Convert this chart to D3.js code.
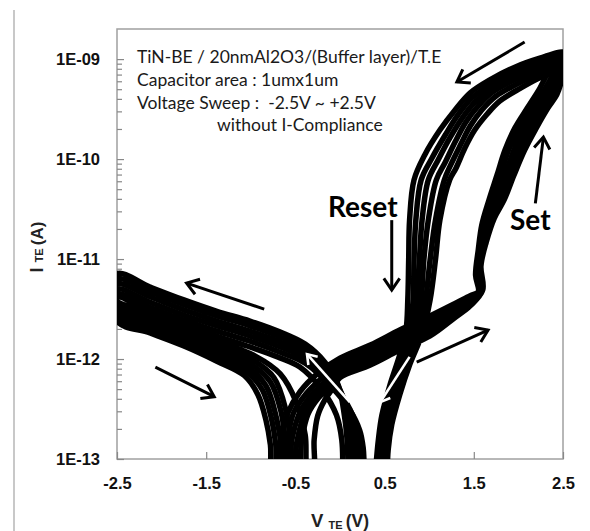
<!DOCTYPE html>
<html>
<head>
<meta charset="utf-8">
<script src="https://cdn.jsdelivr.net/npm/d3@7"></script>
<style>
  body { margin: 0; background: #fff; }
  svg { display: block; }
  .tick text { font-family: "Liberation Sans", Arial, sans-serif; font-weight: bold; font-size: 16.5px; fill: #111; }
</style>
</head>
<body>
<div id="chart"></div>
<script>
// I-V sweeps, [V_TE (V), I_TE (A)]
// each cycle: back to -2.5V, return, rise, set to +2.5V, return/reset
var cycle1 = [
  [0.09,7.8e-14],[0.08,1.55e-13],[0.04,3.1e-13],[-0.02,5.5e-13],[-0.17,9.3e-13],[-0.39,1.41e-12],[-0.67,1.86e-12],[-1.01,2.4e-12],[-1.38,3.0e-12],[-1.75,3.9e-12],[-2.13,5.25e-12],[-2.5,7.1e-12],
  [-2.5,2.4e-12],[-2.13,1.82e-12],[-1.75,1.35e-12],[-1.38,9.5e-13],[-1.07,6.8e-13],[-0.92,4.4e-13],[-0.83,2.45e-13],[-0.78,1.38e-13],[-0.76,7.8e-14],
  [-0.71,7.8e-14],[-0.66,1.55e-13],[-0.58,2.95e-13],[-0.45,4.7e-13],[-0.25,7.2e-13],[0.00,1.02e-12],[0.34,1.38e-12],[0.67,1.95e-12],[1.01,2.7e-12],[1.29,3.6e-12],[1.46,4.3e-12],[1.55,4.7e-12],
  [1.52,6.9e-12],[1.55,1.23e-11],[1.59,2.2e-11],[1.67,3.9e-11],[1.76,6.9e-11],[1.85,1.23e-10],[1.96,2.04e-10],[2.10,3.24e-10],[2.24,5.1e-10],[2.35,7.8e-10],[2.50,1.17e-9],
  [2.24,1.02e-9],[1.96,8.3e-10],[1.68,6.2e-10],[1.46,4.6e-10],[1.29,3.1e-10],[1.12,1.95e-10],[0.95,1.10e-10],[0.83,6.2e-11],[0.78,2.45e-11],[0.77,9.8e-12],[0.76,3.9e-12],[0.74,1.95e-12],[0.67,1.10e-12],[0.56,5.5e-13],[0.47,2.75e-13],[0.43,1.55e-13],[0.40,7.8e-14]
];
var cycle2 = [
  [0.13,7.8e-14],[0.12,1.48e-13],[0.09,2.75e-13],[0.01,4.7e-13],[-0.15,7.9e-13],[-0.39,1.26e-12],[-0.67,1.66e-12],[-1.01,2.15e-12],[-1.38,2.7e-12],[-1.75,3.5e-12],[-2.13,4.7e-12],[-2.5,6.3e-12],
  [-2.5,2.63e-12],[-2.13,2.0e-12],[-1.75,1.48e-12],[-1.38,1.05e-12],[-1.04,7.4e-13],[-0.87,4.9e-13],[-0.77,2.57e-13],[-0.72,1.38e-13],[-0.70,7.8e-14],
  [-0.64,7.8e-14],[-0.59,1.55e-13],[-0.52,2.9e-13],[-0.38,4.5e-13],[-0.20,6.5e-13],[0.00,9.3e-13],[0.34,1.26e-12],[0.67,1.78e-12],[1.01,2.45e-12],[1.29,3.4e-12],[1.46,4.1e-12],[1.56,4.7e-12],
  [1.54,7.1e-12],[1.57,1.23e-11],[1.63,2.2e-11],[1.70,3.9e-11],[1.80,6.9e-11],[1.89,1.23e-10],[2.01,2.04e-10],[2.14,3.24e-10],[2.29,4.9e-10],[2.39,7.1e-10],[2.50,1.07e-9],
  [2.24,9.3e-10],[1.96,7.4e-10],[1.68,5.5e-10],[1.48,4.1e-10],[1.32,2.75e-10],[1.18,1.74e-10],[1.03,1.02e-10],[0.91,6.2e-11],[0.85,2.45e-11],[0.83,9.8e-12],[0.82,3.9e-12],[0.78,1.95e-12],[0.70,1.05e-12],[0.58,5.25e-13],[0.49,2.63e-13],[0.45,1.48e-13],[0.43,7.8e-14]
];
var cycle3 = [
  [0.18,7.8e-14],[0.17,1.41e-13],[0.13,2.45e-13],[0.04,4.1e-13],[-0.12,6.8e-13],[-0.39,1.12e-12],[-0.67,1.48e-12],[-1.01,1.9e-12],[-1.38,2.4e-12],[-1.75,3.1e-12],[-2.13,4.2e-12],[-2.5,5.6e-12],
  [-2.5,2.9e-12],[-2.13,2.2e-12],[-1.75,1.62e-12],[-1.38,1.15e-12],[-1.02,8.1e-13],[-0.83,5.4e-13],[-0.72,2.75e-13],[-0.66,1.38e-13],[-0.64,7.8e-14],
  [-0.58,7.8e-14],[-0.54,1.55e-13],[-0.46,2.8e-13],[-0.33,4.3e-13],[-0.16,6.0e-13],[0.00,8.5e-13],[0.34,1.15e-12],[0.67,1.62e-12],[1.01,2.25e-12],[1.29,3.16e-12],[1.46,3.9e-12],[1.57,4.7e-12],
  [1.55,7.4e-12],[1.58,1.29e-11],[1.65,2.24e-11],[1.74,3.9e-11],[1.85,6.9e-11],[1.95,1.23e-10],[2.06,2.04e-10],[2.20,3.24e-10],[2.33,4.8e-10],[2.42,6.6e-10],[2.50,9.8e-10],
  [2.24,8.5e-10],[1.96,6.8e-10],[1.68,5.0e-10],[1.51,3.7e-10],[1.37,2.57e-10],[1.23,1.62e-10],[1.10,9.8e-11],[0.99,6.2e-11],[0.92,2.45e-11],[0.89,9.8e-12],[0.86,3.9e-12],[0.82,1.95e-12],[0.72,1.0e-12],[0.61,5.0e-13],[0.52,2.5e-13],[0.47,1.41e-13],[0.45,7.8e-14]
];
var cycle4 = [
  [0.22,7.8e-14],[0.21,1.35e-13],[0.18,2.2e-13],[0.08,3.55e-13],[-0.10,5.9e-13],[-0.39,1.02e-12],[-0.67,1.32e-12],[-1.01,1.7e-12],[-1.38,2.15e-12],[-1.75,2.75e-12],[-2.13,3.7e-12],[-2.5,5.0e-12],
  [-2.5,3.16e-12],[-2.13,2.4e-12],[-1.75,1.78e-12],[-1.38,1.26e-12],[-1.00,8.9e-13],[-0.78,5.9e-13],[-0.66,2.95e-13],[-0.61,1.38e-13],[-0.58,7.8e-14],
  [-0.53,7.8e-14],[-0.48,1.55e-13],[-0.40,2.8e-13],[-0.28,4.2e-13],[-0.12,5.6e-13],[0.00,7.8e-13],[0.34,1.05e-12],[0.67,1.48e-12],[1.01,2.05e-12],[1.29,2.95e-12],[1.46,3.7e-12],[1.58,4.7e-12],
  [1.56,7.8e-12],[1.60,1.35e-11],[1.67,2.34e-11],[1.77,3.9e-11],[1.88,6.9e-11],[2.00,1.23e-10],[2.11,2.04e-10],[2.24,3.24e-10],[2.37,4.7e-10],[2.44,6.2e-10],[2.50,8.9e-10],
  [2.24,7.8e-10],[1.96,6.2e-10],[1.70,4.6e-10],[1.55,3.4e-10],[1.41,2.34e-10],[1.29,1.48e-10],[1.18,9.3e-11],[1.08,6.2e-11],[0.99,2.45e-11],[0.94,9.8e-12],[0.91,3.9e-12],[0.85,1.95e-12],[0.74,9.5e-13],[0.63,4.8e-13],[0.54,2.4e-13],[0.49,1.35e-13],[0.48,7.8e-14]
];
var cycle5 = [
  [0.27,7.8e-14],[0.26,1.29e-13],[0.22,1.95e-13],[0.11,3.1e-13],[-0.08,5.1e-13],[-0.39,9.1e-13],[-0.67,1.17e-12],[-1.01,1.51e-12],[-1.38,1.9e-12],[-1.75,2.45e-12],[-2.13,3.3e-12],[-2.5,4.5e-12],
  [-2.5,3.5e-12],[-2.13,2.63e-12],[-1.75,1.95e-12],[-1.38,1.38e-12],[-0.98,9.8e-13],[-0.74,6.5e-13],[-0.61,3.16e-13],[-0.55,1.38e-13],[-0.53,7.8e-14],
  [-0.47,7.8e-14],[-0.43,1.55e-13],[-0.36,2.8e-13],[-0.24,4.1e-13],[-0.10,5.4e-13],[0.00,7.1e-13],[0.34,9.5e-13],[0.67,1.35e-12],[1.01,1.86e-12],[1.29,2.75e-12],[1.46,3.55e-12],[1.59,4.8e-12],
  [1.57,8.1e-12],[1.61,1.41e-11],[1.70,2.45e-11],[1.80,3.9e-11],[1.92,6.9e-11],[2.03,1.23e-10],[2.15,2.04e-10],[2.29,3.24e-10],[2.40,4.6e-10],[2.47,5.75e-10],[2.50,8.1e-10],
  [2.24,7.1e-10],[1.98,5.6e-10],[1.74,4.2e-10],[1.59,3.1e-10],[1.46,2.14e-10],[1.35,1.38e-10],[1.24,8.7e-11],[1.17,6.2e-11],[1.07,2.45e-11],[1.01,9.8e-12],[0.96,3.9e-12],[0.89,1.86e-12],[0.76,9.1e-13],[0.65,4.6e-13],[0.56,2.3e-13],[0.52,1.29e-13],[0.50,7.8e-14]
];
var cycle6 = [
  [0.03,7.8e-14],[0.02,1.55e-13],[-0.04,2.75e-13],[-0.20,4.9e-13],[-0.45,8.3e-13],[-0.70,1.05e-12],[-1.01,1.32e-12],[-1.38,1.7e-12],[-1.75,2.25e-12],[-2.13,3.0e-12],[-2.5,4.2e-12],
  [-2.5,3.8e-12],[-2.13,2.9e-12],[-1.75,2.15e-12],[-1.38,1.51e-12],[-0.95,1.07e-12],[-0.67,7.1e-13],[-0.49,3.7e-13],[-0.39,1.74e-13],[-0.36,7.8e-14],
  [-0.30,7.8e-14],[-0.29,1.55e-13],[-0.25,2.7e-13],[-0.17,3.9e-13],[-0.08,5.1e-13],[0.00,6.5e-13],[0.34,8.7e-13],[0.67,1.23e-12],[1.01,1.7e-12],[1.29,2.6e-12],[1.46,3.4e-12],[1.60,4.9e-12],
  [1.58,8.5e-12],[1.64,1.48e-11],[1.73,2.57e-11],[1.84,3.9e-11],[1.95,6.9e-11],[2.07,1.23e-10],[2.20,2.04e-10],[2.33,3.24e-10],[2.43,4.4e-10],[2.48,5.9e-10],[2.50,7.4e-10],
  [2.26,6.6e-10],[2.02,5.1e-10],[1.79,3.8e-10],[1.65,2.82e-10],[1.51,1.95e-10],[1.40,1.29e-10],[1.30,8.1e-11],[1.23,6.2e-11],[1.12,2.45e-11],[1.07,9.8e-12],[1.01,3.9e-12],[0.92,1.78e-12],[0.78,8.7e-13],[0.67,4.4e-13],[0.58,2.2e-13],[0.54,1.23e-13],[0.53,7.8e-14]
];
var cycles = [cycle1, cycle2, cycle3, cycle4, cycle5, cycle6];

var xTicks = [-2.5, -1.5, -0.5, 0.5, 1.5, 2.5];
var yTicks = [1e-13, 1e-12, 1e-11, 1e-10, 1e-9];

var infoLines = ["TiN-BE / 20nmAl2O3/(Buffer layer)/T.E", "Capacitor area : 1umx1um", "Voltage Sweep :  -2.5V ~ +2.5V", "without I-Compliance"];

// sweep direction arrows, tail -> head
var arrows = [
  {from: [2.07, 1.48e-9],  to: [1.31, 5.9e-10],  color: "#000"},
  {from: [2.19, 3.6e-11],  to: [2.28, 1.66e-10], color: "#000"},
  {from: [0.58, 2.45e-11], to: [0.58, 4.9e-12],  color: "#000"},
  {from: [0.86, 9.3e-13],  to: [1.66, 1.95e-12], color: "#000"},
  {from: [-0.85, 3.16e-12], to: [-1.72, 5.75e-12], color: "#000"},
  {from: [-2.07, 8.3e-13], to: [-1.41, 4.2e-13], color: "#000"},
  {from: [0.11, 3.7e-13],  to: [-0.37, 1.12e-12], color: "#fff"},
  {from: [0.78, 1.05e-12], to: [0.45, 3.7e-13],  color: "#fff"}
];

var W = 590, H = 531;
var margin = {top: 29, right: 27, bottom: 72, left: 117};
var x0 = margin.left, x1 = W - margin.right, y0 = margin.top, y1 = H - margin.bottom;

var svg = d3.select("#chart").append("svg")
    .attr("width", W)
    .attr("height", H);

// page edge line on the left
svg.append("line")
    .attr("x1", 14).attr("x2", 14).attr("y1", 10).attr("y2", H)
    .style("stroke", "#c8c8c8").style("stroke-width", 2);

var x = d3.scaleLinear().domain([-2.5, 2.5]).range([x0, x1]);
var y = d3.scaleLog().domain([1e-13, 2e-9]).range([y1, y0]);

svg.append("rect")
    .attr("x", x0).attr("y", y0)
    .attr("width", x1 - x0).attr("height", y1 - y0)
    .style("fill", "none").style("stroke", "#a0a0a0").style("stroke-width", 1.5);

function fmtE(d) {
    var e = Math.round(Math.log10(d));
    return "1E-" + (e > -10 ? "0" : "") + (-e);
}

// minor ticks on the log axis
var minor = [];
for (var e = -13; e < -9; e++) {
    for (var m = 2; m <= 9; m++) minor.push(m * Math.pow(10, e));
}

var yAxis = svg.append("g")
    .attr("transform", "translate(" + x0 + ",0)")
    .call(d3.axisLeft(y).tickValues(yTicks).tickSize(-7).tickPadding(17).tickFormat(fmtE));
var yMinor = svg.append("g")
    .attr("transform", "translate(" + x0 + ",0)")
    .call(d3.axisLeft(y).tickValues(minor).tickSize(-5).tickFormat(""));
var xAxis = svg.append("g")
    .attr("transform", "translate(0," + y1 + ")")
    .call(d3.axisBottom(x).tickValues(xTicks).tickSize(-7).tickPadding(18).tickFormat(function(d) { return d.toFixed(1); }));

[yAxis, yMinor, xAxis].forEach(function(g) {
    g.select(".domain").remove();
    g.selectAll(".tick line").style("stroke", "#888").style("stroke-width", 1.2);
});

// curves
svg.append("clipPath").attr("id", "clip")
  .append("rect")
    .attr("x", x0).attr("y", y0)
    .attr("width", x1 - x0).attr("height", y1 - y0);

var line = d3.line()
    .x(function(d) { return x(d[0]); })
    .y(function(d) { return y(d[1]); })
    .curve(d3.curveCatmullRom.alpha(0.5));

svg.append("g")
    .attr("clip-path", "url(#clip)")
  .selectAll("path")
  .data(cycles)
  .enter()
  .append("path")
    .attr("d", line)
    .style("fill", "none")
    .style("stroke", "#000")
    .style("stroke-width", 5.5)
    .style("stroke-linejoin", "round")
    .style("stroke-linecap", "round");

// arrows
function drawArrow(a) {
    var tx = x(a.from[0]), ty = y(a.from[1]);
    var hx = x(a.to[0]), hy = y(a.to[1]);
    var ang = Math.atan2(hy - ty, hx - tx);
    var len = a.color == "#fff" ? 11 : 14, spread = 0.6;
    var p1 = [hx - len * Math.cos(ang - spread), hy - len * Math.sin(ang - spread)];
    var p2 = [hx - len * Math.cos(ang + spread), hy - len * Math.sin(ang + spread)];
    var g = svg.append("g")
        .style("stroke", a.color)
        .style("stroke-width", a.color == "#fff" ? 2.6 : 3)
        .style("fill", "none")
        .style("stroke-linecap", "butt")
        .style("stroke-linejoin", "miter");
    g.append("line").attr("x1", tx).attr("y1", ty).attr("x2", hx).attr("y2", hy);
    g.append("path").attr("d", "M" + p1 + "L" + hx + "," + hy + "L" + p2);
}
arrows.forEach(drawArrow);

// info text
var info = svg.append("g")
    .style("font-family", "Lato, 'Open Sans', sans-serif")
    .style("font-size", "17.5px")
    .style("fill", "#1a1a1a");
info.selectAll("text")
  .data(infoLines)
  .enter()
  .append("text")
    .attr("x", function(d, i) { return i == 3 ? 217 : 137; })
    .attr("y", function(d, i) { return 63 + i * 22.8; })
    .attr("xml:space", "preserve")
    .style("white-space", "pre")
    .text(function(d) { return d; });

svg.append("text")
    .attr("x", 328).attr("y", 217)
    .style("font-family", "Lato, sans-serif").style("font-weight", "bold").style("font-size", "28px")
    .text("Reset");
svg.append("text")
    .attr("x", 510).attr("y", 230)
    .style("font-family", "Lato, sans-serif").style("font-weight", "bold").style("font-size", "28px")
    .text("Set");

// axis titles
var yt = svg.append("text")
    .attr("transform", "translate(43," + 247 + ") rotate(-90)")
    .attr("text-anchor", "middle")
    .style("font-family", "Liberation Sans, Arial, sans-serif").style("font-weight", "bold").style("fill", "#222");
yt.append("tspan").style("font-size", "18px").text("I ");
yt.append("tspan").style("font-size", "11px").text("TE ");
yt.append("tspan").style("font-size", "17px").text("(A)");

var xt = svg.append("text")
    .attr("x", 340).attr("y", 527)
    .attr("text-anchor", "middle")
    .style("font-family", "Liberation Sans, Arial, sans-serif").style("font-weight", "bold").style("fill", "#222");
xt.append("tspan").style("font-size", "18.5px").text("V ");
xt.append("tspan").style("font-size", "11px").attr("dy", 2).text("TE ");
xt.append("tspan").style("font-size", "17.5px").attr("dy", -2).text("(V)");
</script>
</body>
</html>
